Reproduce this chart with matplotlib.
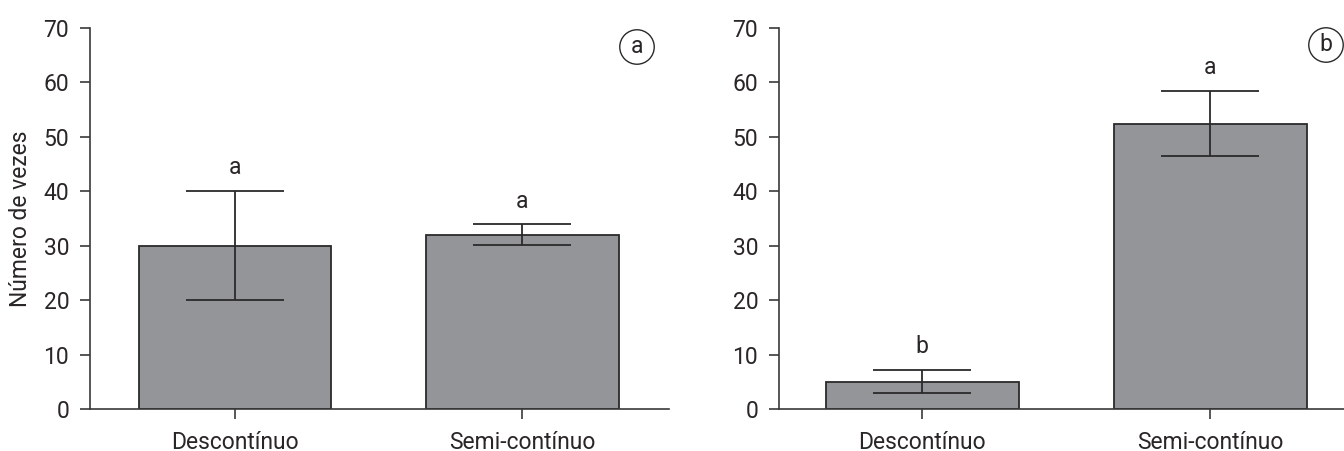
import matplotlib
matplotlib.use("Agg")
import matplotlib.pyplot as plt

categories = ["Descontínuo", "Semi-contínuo"]
values_a = [30.0, 32.0]
err_a = [10.0, 1.9]
letters_a = ["a", "a"]
values_b = [5.0, 52.4]
err_b = [2.1, 6.0]
letters_b = ["b", "a"]
yticks = [0, 10, 20, 30, 40, 50, 60, 70]
ylabel = "Número de vezes"

plt.rcParams['font.family'] = ['Roboto', 'DejaVu Sans']
TXT = "#2a2627"
BAR = "#939598"
EDGE = "#2a2a2a"
FS = 16.5
FW = 'normal'

fig = plt.figure(figsize=(13.44, 4.51), dpi=100)
ax1 = fig.add_axes([90/1344, 1-409/451, (669-90)/1344, (409-28)/451])
ax2 = fig.add_axes([779/1344, 1-409/451, (1344-779)/1344, (409-28)/451])

def draw(ax, vals, errs, letters, xlim, tag, tagx, tagy, show_ylabel):
    x = list(range(len(categories)))
    ax.bar(x, vals, width=0.67, color=BAR, edgecolor=EDGE, linewidth=1.3, zorder=2)
    ax.errorbar(x, vals, yerr=errs, fmt='none', ecolor=EDGE, elinewidth=1.3,
                capsize=35, capthick=1.3, zorder=3)
    for xi, v, e, l in zip(x, vals, errs, letters):
        ax.text(xi, v + e + 2.2, l, ha='center', va='bottom', fontsize=FS,
                color=TXT, fontweight=FW)
    ax.set_xlim(*xlim)
    ax.set_ylim(0, 70)
    ax.set_yticks(yticks)
    ax.set_xticks(x)
    ax.set_xticklabels(categories)
    for s in ['top', 'right']:
        ax.spines[s].set_visible(False)
    for s in ['left', 'bottom']:
        ax.spines[s].set_color("#3a3a3a")
        ax.spines[s].set_linewidth(1.2)
    ax.tick_params(axis='both', direction='out', length=7, width=1.2, color="#3a3a3a",
                   labelsize=FS, labelcolor=TXT)
    ax.tick_params(axis='y', pad=8)
    ax.tick_params(axis='x', pad=8.5)
    for lab in ax.get_xticklabels() + ax.get_yticklabels():
        lab.set_fontweight(FW)
    if show_ylabel:
        ax.set_ylabel(ylabel, fontsize=FS, color=TXT, fontweight=FW, labelpad=8)
    ax.text(tagx, tagy, tag, transform=ax.transAxes, ha='center', va='center',
            fontsize=FS, color=TXT, fontweight=FW,
            bbox=dict(boxstyle='circle,pad=0.25', facecolor='white', edgecolor=EDGE, linewidth=1.0))

draw(ax1, values_a, err_a, letters_a, (-0.505, 1.51), "a", (637-90)/(669-90), (409-47)/381, True)
draw(ax2, values_b, err_b, letters_b, (-0.497, 1.465), "b", (1326-779)/(1344-779), (409-45)/381, False)

fig.savefig("out.png", dpi=100, facecolor='white')
